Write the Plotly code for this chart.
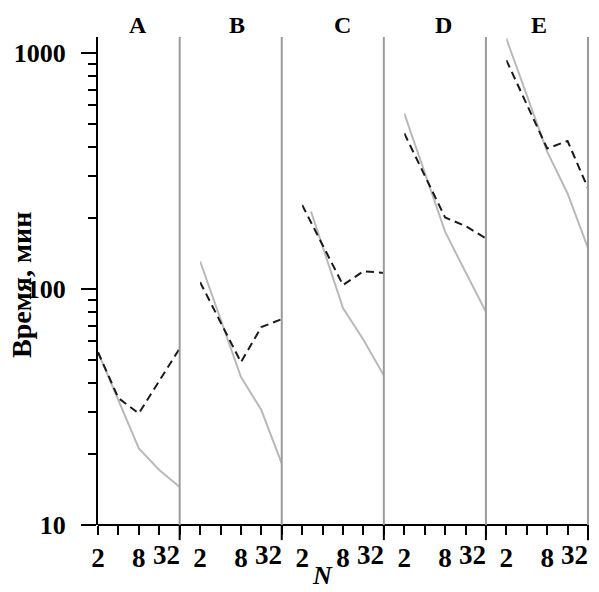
import math
import plotly.graph_objects as go
from plotly.subplots import make_subplots

# Panels and thread counts
panels = ["A", "B", "C", "D", "E"]
n_values = [2, 4, 8, 16, 32]
n_solid_c = [2.7, 4, 8, 16, 32]  # solid curve of panel C begins a little after N=2

# Time, minutes (solid gray curve)
solid_A = [54, 34, 21.1, 17.1, 14.5]
solid_B = [131, 75, 42.5, 30.7, 18.2]
solid_C = [213, 152, 83, 61, 43]
solid_D = [555, 312, 175, 118, 80]
solid_E = [1153, 662, 382, 254, 149]

# Time, minutes (dashed black curve)
dashed_A = [54, 34.5, 29.7, 41, 56]
dashed_B = [107, 72, 49, 69, 74.5]
dashed_C = [227, 154, 104, 119, 117]
dashed_D = [457, 302, 201, 185, 164]
dashed_E = [933, 605, 394, 424, 267]

x_tick_vals = [2, 4, 8, 16, 32]
x_tick_text = ["2", "", "8", "", ""]
x_end_label = "32"  # last tick label, right-aligned to its tick
y_tick_vals = [10, 100, 1000]
y_tick_text = ["10", "100", "1000"]
y_minor_vals = [20, 30, 40, 50, 60, 70, 80, 90, 200, 300, 400, 500, 600, 700, 800, 900]

solid_series = [solid_A, solid_B, solid_C, solid_D, solid_E]
dashed_series = [dashed_A, dashed_B, dashed_C, dashed_D, dashed_E]
solid_x = [n_values, n_values, n_solid_c, n_values, n_values]

SERIF = "Liberation Serif"
X_FONT = 27

fig = make_subplots(rows=1, cols=5, shared_yaxes=True, horizontal_spacing=1 / 24)

for i, name in enumerate(panels):
    col = i + 1
    fig.add_trace(go.Scatter(x=solid_x[i], y=solid_series[i], mode="lines",
                             line=dict(color="#b9b9b9", width=2),
                             showlegend=False, hoverinfo="x+y"), row=1, col=col)
    fig.add_trace(go.Scatter(x=n_values, y=dashed_series[i], mode="lines",
                             line=dict(color="#1a1a1a", width=2, dash="8px,5px"),
                             showlegend=False, hoverinfo="x+y"), row=1, col=col)

fig.update_xaxes(type="log", range=[math.log10(2), math.log10(32)], tickmode="array",
                 tickvals=x_tick_vals, ticktext=x_tick_text, automargin=False,
                 ticks="outside", ticklen=9, tickwidth=2, tickcolor="black",
                 showline=False, showgrid=False, zeroline=False,
                 tickfont=dict(family=SERIF, size=X_FONT, color="black", weight="bold"))

fig.update_yaxes(type="log", range=[1, 3.068], showgrid=False, zeroline=False,
                 automargin=False)
fig.update_yaxes(row=1, col=1, tickmode="array", tickvals=y_tick_vals, ticktext=y_tick_text,
                 ticks="outside", ticklen=15, tickwidth=2, tickcolor="black",
                 showline=True, linecolor="black", linewidth=2,
                 ticklabelstandoff=10,
                 minor=dict(tickmode="array", tickvals=y_minor_vals, ticks="outside",
                            ticklen=8, tickwidth=2, tickcolor="black"),
                 tickfont=dict(family=SERIF, size=26, color="black", weight="bold"))
for c in range(2, 6):
    fig.update_yaxes(row=1, col=c, showticklabels=False, ticks="", showline=False)

shapes = []
# continuous baseline under all panels
shapes.append(dict(type="line", xref="paper", yref="paper", x0=0, x1=1, y0=0, y1=0,
                   line=dict(color="black", width=2)))
title_shift = [-1, -4, -1, -2, -8]
annotations = []
for i, name in enumerate(panels):
    xa = "x" if i == 0 else f"x{i + 1}"
    dom = f"{xa} domain"
    # gray separator on the right edge of each panel
    shapes.append(dict(type="line", xref=dom, yref="paper", x0=1, x1=1, y0=0, y1=1,
                       line=dict(color="#9a9a9a", width=2)))
    # long tick at N=32
    shapes.append(dict(type="line", xref=dom, yref="paper", x0=1, x1=1, y0=-0.031, y1=0,
                       line=dict(color="black", width=2)))
    # "32" label, placed flush right against its tick
    annotations.append(dict(text=f"<b>{x_end_label}</b>", xref=xa, yref="paper",
                            x=math.log10(32), y=0, xanchor="right", yanchor="top",
                            xshift=2, yshift=-13, showarrow=False,
                            font=dict(family=SERIF, size=X_FONT, color="black")))
    annotations.append(dict(text=f"<b>{name}</b>", xref=dom, yref="paper", x=0.5, y=1,
                            xanchor="center", yanchor="middle", yshift=12,
                            xshift=title_shift[i], showarrow=False,
                            font=dict(family=SERIF, size=24, color="black")))

annotations.append(dict(text="<b>Время, мин</b>", xref="paper", yref="paper",
                        x=-0.155, y=0.492, xanchor="center", yanchor="middle",
                        textangle=-90, showarrow=False,
                        font=dict(family=SERIF, size=28, color="black")))
annotations.append(dict(text="<b><i>N</i></b>", xref="paper", yref="paper",
                        x=0.459, y=-0.103, xanchor="center", yanchor="middle",
                        showarrow=False,
                        font=dict(family=SERIF, size=26, color="black")))

fig.update_layout(width=599, height=592, margin=dict(l=98, r=11, t=37, b=67),
                  plot_bgcolor="white", paper_bgcolor="white",
                  shapes=shapes, annotations=annotations, showlegend=False)

fig.write_html("out.html")
